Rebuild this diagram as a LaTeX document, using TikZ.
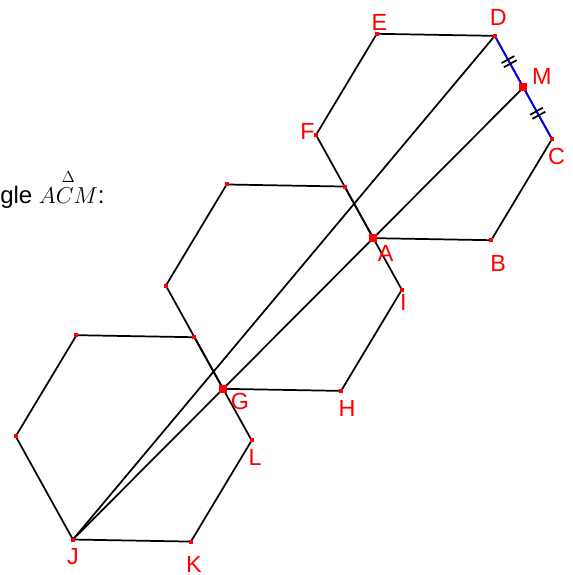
\documentclass[tikz,border=0pt]{standalone}
\usepackage{fontspec}
\setmainfont{Liberation Sans}
\usepackage{amsmath}
\usetikzlibrary{calc}

\begin{document}
\begin{tikzpicture}[x=0.75pt,y=-0.75pt,
        hrana/.style={line width=1.3pt},
        popis/.style={text=red, inner sep=0pt, font=\fontsize{17.5}{20}\selectfont}]
        \useasboundingbox (0,0) rectangle (573,575);

        % šestiúhelník ABCDEF
        \coordinate (O) at (434,137);
        \coordinate (C) at ($(O)+(1:118)$);
        \coordinate (B) at ($(O)+(61:118)$);
        \coordinate (A) at ($(O)+(121:118)$);
        \coordinate (F) at ($(O)+(181:118)$);
        \coordinate (E) at ($(O)+(241:118)$);
        \coordinate (D) at ($(O)+(301:118)$);
        \coordinate (M) at ($(C)!0.5!(D)$);

        % posunuté šestiúhelníky
        \coordinate (P) at ($(D)+(A)-(M)$);
        \coordinate (I) at ($(C)+(A)-(M)$);
        \coordinate (H) at ($(B)+(A)-(M)$);
        \coordinate (G) at ($(A)+(A)-(M)$);
        \coordinate (Q) at ($(F)+(A)-(M)$);
        \coordinate (R) at ($(E)+(A)-(M)$);
        \coordinate (S) at ($(P)+(A)-(M)$);
        \coordinate (L) at ($(I)+(A)-(M)$);
        \coordinate (K) at ($(H)+(A)-(M)$);
        \coordinate (J) at ($(G)+(A)-(M)$);
        \coordinate (U) at ($(Q)+(A)-(M)$);
        \coordinate (T) at ($(R)+(A)-(M)$);

        \draw[hrana] (A) -- (B) -- (C) -- (D) -- (E) -- (F) -- cycle;
        \draw[hrana] (P) -- (I) -- (H) -- (G) -- (Q) -- (R) -- cycle;
        \draw[hrana] (S) -- (L) -- (K) -- (J) -- (U) -- (T) -- cycle;

        % úsečky z bodu J
        \draw[hrana] (J) -- (D);
        \draw[hrana] (J) -- (M);

        % strana CD a značky shodnosti
        \draw[hrana, blue] (D) -- (C);
        \coordinate (m1) at ($(D)!0.46!(M)$);
        \coordinate (m2) at ($(D)!0.54!(M)$);
        \coordinate (m3) at ($(M)!0.46!(C)$);
        \coordinate (m4) at ($(M)!0.54!(C)$);
        \draw[hrana] ($(m1)!5.5pt!90:(M)$) -- ($(m1)!5.5pt!-90:(M)$);
        \draw[hrana] ($(m2)!5.5pt!90:(M)$) -- ($(m2)!5.5pt!-90:(M)$);
        \draw[hrana] ($(m3)!5.5pt!90:(C)$) -- ($(m3)!5.5pt!-90:(C)$);
        \draw[hrana] ($(m4)!5.5pt!90:(C)$) -- ($(m4)!5.5pt!-90:(C)$);

        % body
        \fill[red] ($(B)+(-2,-2)$) rectangle +(4,4);
        \fill[red] ($(C)+(-2,-2)$) rectangle +(4,4);
        \fill[red] ($(D)+(-2,-2)$) rectangle +(4,4);
        \fill[red] ($(E)+(-2,-2)$) rectangle +(4,4);
        \fill[red] ($(F)+(-2,-2)$) rectangle +(4,4);
        \fill[red] ($(P)+(-2,-2)$) rectangle +(4,4);
        \fill[red] ($(I)+(-2,-2)$) rectangle +(4,4);
        \fill[red] ($(H)+(-2,-2)$) rectangle +(4,4);
        \fill[red] ($(Q)+(-2,-2)$) rectangle +(4,4);
        \fill[red] ($(R)+(-2,-2)$) rectangle +(4,4);
        \fill[red] ($(S)+(-2,-2)$) rectangle +(4,4);
        \fill[red] ($(L)+(-2,-2)$) rectangle +(4,4);
        \fill[red] ($(K)+(-2,-2)$) rectangle +(4,4);
        \fill[red] ($(J)+(-2,-2)$) rectangle +(4,4);
        \fill[red] ($(U)+(-2,-2)$) rectangle +(4,4);
        \fill[red] ($(T)+(-2,-2)$) rectangle +(4,4);
        \fill[red] ($(A)+(-4,-4)$) rectangle +(8,8);
        \fill[red] ($(G)+(-4,-4)$) rectangle +(8,8);
        \fill[red] ($(M)+(-4,-4)$) rectangle +(8,8);

        % popisky
        \node[popis] (lE) at ($(E)+(2.5,-11.5)$) {E};
        \node[popis] (lF) at ($(F)+(-8.5,-3.5)$) {F};
        \node[popis] (lD) at ($(D)+(3.5,-18)$) {D};
        \node[popis] (lM) at ($(M)+(18.5,-11)$) {M};
        \node[popis] (lC) at ($(C)+(4.5,17)$) {C};
        \node[popis] (lA) at ($(A)+(12.5,15.5)$) {A};
        \node[popis] (lB) at ($(B)+(7,23)$) {B};
        \node[popis] (lI) at ($(I)+(1.5,13)$) {I};
        \node[popis] (lH) at ($(H)+(6,18)$) {H};
        \node[popis] (lG) at ($(G)+(17,12.5)$) {G};
        \node[popis] (lL) at ($(L)+(3.5,17)$) {L};
        \node[popis] (lJ) at ($(J)+(0,17)$) {J};
        \node[popis] (lK) at ($(K)+(3,22.5)$) {K};

        % nadpis
        \node[anchor=base west, inner sep=0pt, font=\fontsize{18}{20}\selectfont] (nadpis) at (0,203) {gle $\overset{\Delta}{ACM}$:};
    \end{tikzpicture}
\end{document}
